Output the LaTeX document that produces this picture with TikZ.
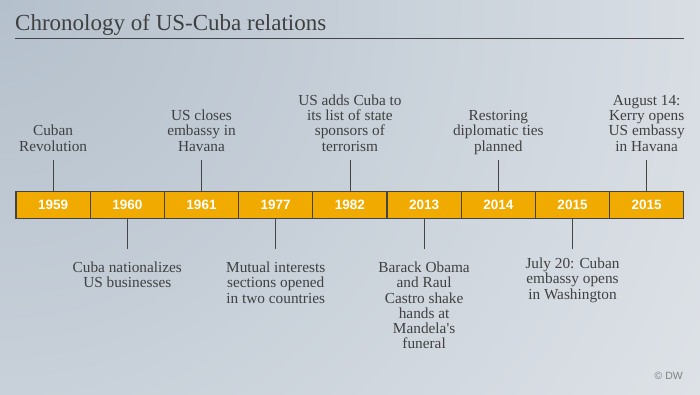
\documentclass[tikz,border=0pt]{standalone}
\usepackage{fontspec}
\setmainfont{Liberation Serif}
\setsansfont{Liberation Sans}
\usetikzlibrary{positioning}
\definecolor{bgdark}{RGB}{180,192,204}
\definecolor{bglight}{RGB}{241,242,244}
\definecolor{boxorange}{RGB}{241,170,0}
\definecolor{linegray}{RGB}{68,68,68}
\definecolor{textgray}{RGB}{64,64,64}
\tikzset{
  yearbox/.style={draw=linegray, line width=1.2pt, fill=boxorange, minimum width=74.2pt,
    minimum height=27pt, inner sep=0pt, outer sep=0pt, text=white,
    font=\sffamily\bfseries\fontsize{13.5}{16}\selectfont},
  eventlabel/.style={align=center, text=textgray, inner sep=0pt,
    text depth=0pt, font=\fontsize{15.3}{15.2}\selectfont},
  ticklink/.style={draw=linegray, line width=0.8pt}
}
\begin{document}
\begin{tikzpicture}[x=1pt, y=-1pt]
    % Background
    \useasboundingbox (0,0) rectangle (700,394);
    \fill[bglight] (0,0) rectangle (700,394);
    \begin{scope}
        \clip (0,0) rectangle (700,394);
        \shade[inner color=bgdark, outer color=bglight] (0,0) circle (1180);
    \end{scope}
    % Title
    \node[anchor=base west, inner sep=0pt, text=textgray, font=\fontsize{23}{28}\selectfont]
        (title) at (15,30) {Chronology of US-Cuba relations};
    \draw[linegray, line width=1pt] (15,38.5) -- (684,38.5);
    % Year boxes
    \foreach \yr [count=\i] in {1959,1960,1961,1977,1982,2013,2014,2015,2015}
        \node[yearbox] (b\i) at ({16+74.2*(\i-0.5)},204.8) {\yr};
    % Events above the line
    \node[eventlabel, above=40pt of b1] (e1) {Cuban\\Revolution};
    \node[eventlabel, above=40pt of b3] (e3) {US closes\\embassy in\\Havana};
    \node[eventlabel, above=40pt of b5] (e5) {US adds Cuba to\\its list of state\\sponsors of\\terrorism};
    \node[eventlabel, above=40pt of b7] (e7) {Restoring\\diplomatic ties\\planned};
    \node[eventlabel, above=40pt of b9] (e9) {August 14:\\Kerry opens\\US embassy\\in Havana};
    % Events below the line
    \node[eventlabel, below=43.5pt of b2] (e2) {Cuba nationalizes\\US businesses};
    \node[eventlabel, below=43.5pt of b4] (e4) {Mutual interests\\sections opened\\in two countries};
    \node[eventlabel, below=43.5pt of b6] (e6) {Barack Obama\\and Raul\\Castro shake\\hands at\\Mandela\textquotesingle s\\funeral};
    \node[eventlabel, below=39.5pt of b8] (e8) {July 20: Cuban\\embassy opens\\in Washington};
    % Ticks
    \foreach \i in {1,3,5,7,9}
        \draw[ticklink, shorten >=9pt] (b\i.north) -- (e\i.south);
    \foreach \i in {2,4,6}
        \draw[ticklink, shorten >=12.5pt] (b\i.south) -- (e\i.north);
    \draw[ticklink, shorten >=8.5pt] (b8.south) -- (e8.north);
    % Credit
    \node[anchor=east, inner sep=0pt, text=gray, font=\sffamily\fontsize{10.5}{12}\selectfont]
        (dw) at (683,376) {© DW};
\end{tikzpicture}
\end{document}
